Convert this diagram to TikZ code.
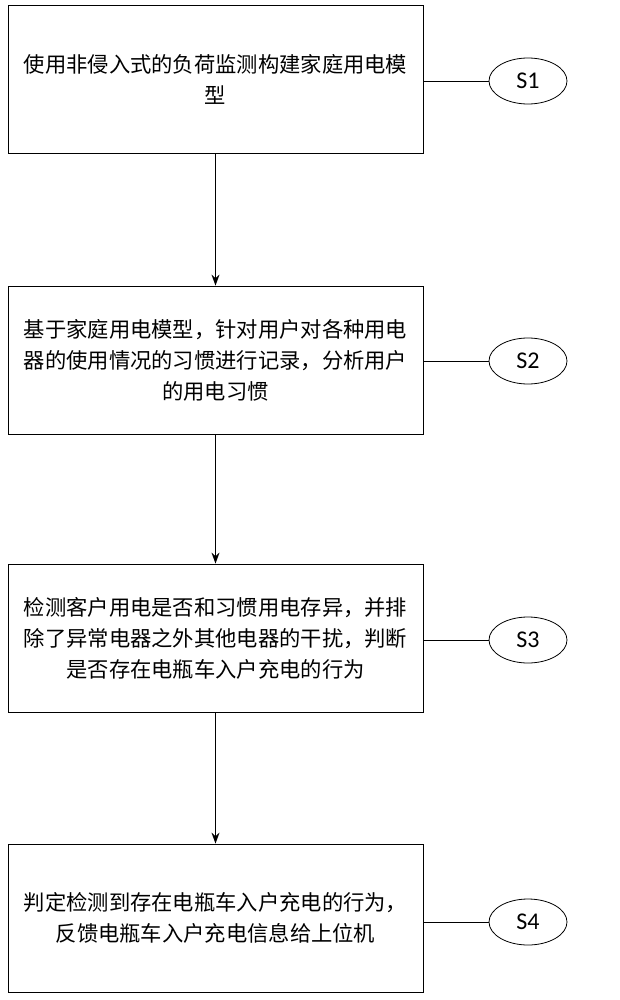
\documentclass[tikz,border=0pt]{standalone}
\usepackage{fontspec}
\setmainfont{Carlito}
\newfontfamily\cjk{Noto Sans CJK SC}
\usetikzlibrary{shapes.geometric,arrows.meta}
\begin{document}
\begin{tikzpicture}[x=1pt,y=-1pt,
  stepbox/.style={draw,line width=0.8pt,minimum width=415pt,minimum height=148pt,align=center,font=\cjk\fontsize{21.3}{31}\selectfont,inner sep=0pt},
  lab/.style={draw,ellipse,line width=0.8pt,minimum width=78pt,minimum height=46pt,font=\fontsize{24}{28}\selectfont,inner sep=0pt},
  arr/.style={-{Stealth[length=11pt,width=8pt]},line width=1.2pt}]
\useasboundingbox (0,0) rectangle (619,1000);
\node[stepbox] (b1) at (215.5,79) {使用非侵入式的负荷监测构建家庭用电模\\型};
\node[stepbox] (b2) at (215.5,360) {基于家庭用电模型，针对用户对各种用电\\器的使用情况的习惯进行记录，分析用户\\的用电习惯};
\node[stepbox] (b3) at (215.5,638) {检测客户用电是否和习惯用电存异，并排\\除了异常电器之外其他电器的干扰，判断\\是否存在电瓶车入户充电的行为};
\node[stepbox] (b4) at (215.5,918) {判定检测到存在电瓶车入户充电的行为，\\反馈电瓶车入户充电信息给上位机};
\node[lab] (s1) at (528,81) {S1};
\node[lab] (s2) at (528,361) {S2};
\node[lab] (s3) at (528,640) {S3};
\node[lab] (s4) at (528,922) {S4};
\foreach \i in {1,2,3,4}{\draw[line width=0.8pt] (b\i.east|-s\i) -- (s\i.west);}
\draw[arr] (b1.south) -- (b2.north);
\draw[arr] (b2.south) -- (b3.north);
\draw[arr] (b3.south) -- (b4.north);
\end{tikzpicture}
\end{document}
